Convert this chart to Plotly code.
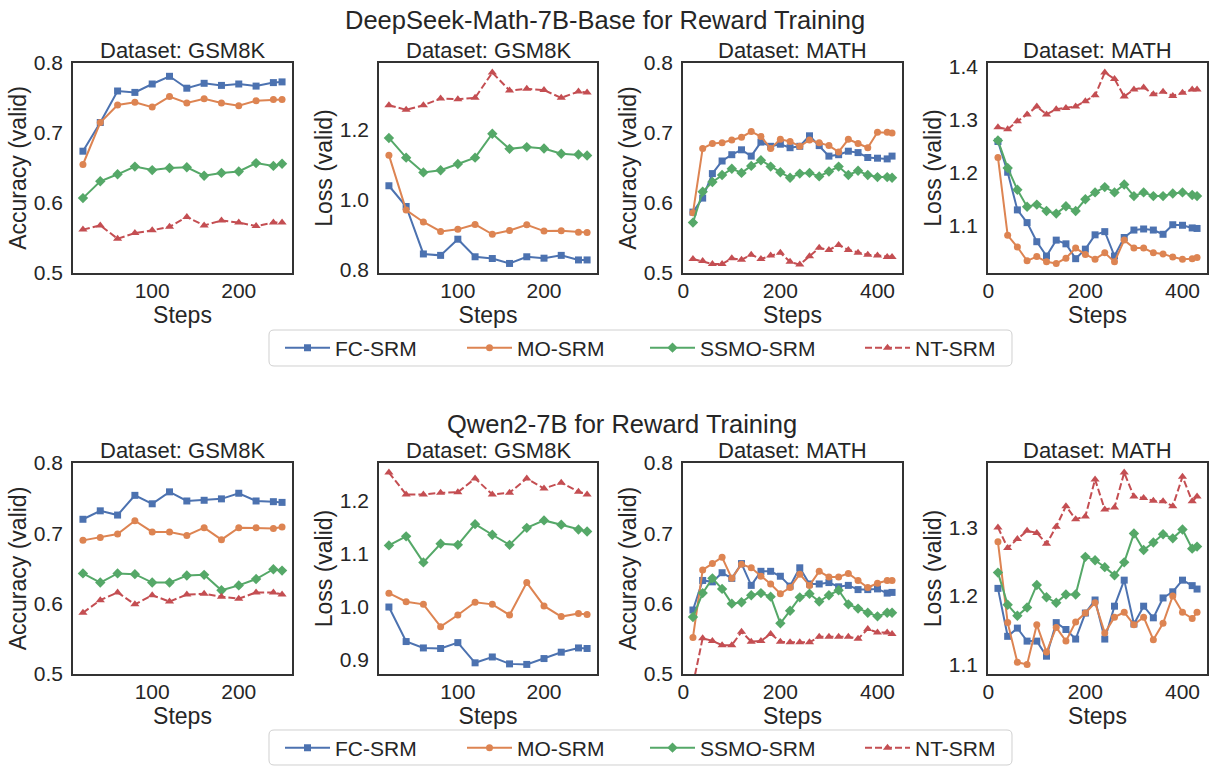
import plotly.graph_objects as go

W, H = 1210, 767
FONT = "Liberation Sans, Arial, Helvetica, sans-serif"
TXT = "#262626"

# ---------------- data ----------------
steps_gsm8k = [20, 40, 60, 80, 100, 120, 140, 160, 180, 200, 220, 240, 250]
steps_math = [20, 40, 60, 80, 100, 120, 140, 160, 180, 200, 220, 240, 260, 280, 300,
              320, 340, 360, 380, 400, 420, 430]

methods = ["FC-SRM", "MO-SRM", "SSMO-SRM", "NT-SRM"]
datasets_row = ["GSM8K", "GSM8K", "MATH", "MATH"]
metrics_row = ["Accuracy (valid)", "Loss (valid)", "Accuracy (valid)", "Loss (valid)"]
row_titles = ["DeepSeek-Math-7B-Base for Reward Training", "Qwen2-7B for Reward Training"]

# DeepSeek-Math-7B-Base, GSM8K accuracy
ds_gsm8k_acc_fc = [0.674, 0.715, 0.760, 0.758, 0.770, 0.781, 0.764, 0.771, 0.768, 0.770, 0.767, 0.772, 0.773]
ds_gsm8k_acc_mo = [0.655, 0.715, 0.740, 0.744, 0.737, 0.752, 0.743, 0.749, 0.743, 0.739, 0.746, 0.748, 0.748]
ds_gsm8k_acc_ssmo = [0.607, 0.631, 0.641, 0.652, 0.647, 0.650, 0.651, 0.639, 0.643, 0.645, 0.657, 0.653, 0.656]
ds_gsm8k_acc_nt = [0.562, 0.568, 0.549, 0.557, 0.561, 0.566, 0.580, 0.568, 0.575, 0.572, 0.567, 0.572, 0.572]

# DeepSeek-Math-7B-Base, GSM8K loss
ds_gsm8k_loss_fc = [1.040, 0.981, 0.846, 0.842, 0.888, 0.838, 0.833, 0.819, 0.838, 0.834, 0.842, 0.829, 0.829]
ds_gsm8k_loss_mo = [1.127, 0.971, 0.937, 0.910, 0.916, 0.930, 0.902, 0.913, 0.929, 0.911, 0.912, 0.908, 0.907]
ds_gsm8k_loss_ssmo = [1.176, 1.120, 1.078, 1.084, 1.102, 1.120, 1.188, 1.145, 1.150, 1.146, 1.131, 1.129, 1.126]
ds_gsm8k_loss_nt = [1.269, 1.256, 1.269, 1.288, 1.286, 1.290, 1.362, 1.311, 1.316, 1.312, 1.290, 1.308, 1.305]

# DeepSeek-Math-7B-Base, MATH accuracy
ds_math_acc_fc = [0.587, 0.607, 0.642, 0.660, 0.669, 0.676, 0.667, 0.687, 0.681, 0.684, 0.679,
                  0.681, 0.696, 0.682, 0.667, 0.669, 0.674, 0.672, 0.665, 0.664, 0.663, 0.667]
ds_math_acc_mo = [0.586, 0.678, 0.685, 0.686, 0.690, 0.694, 0.702, 0.695, 0.678, 0.691, 0.688,
                  0.681, 0.690, 0.686, 0.682, 0.673, 0.691, 0.685, 0.679, 0.701, 0.701, 0.700]
ds_math_acc_ssmo = [0.572, 0.616, 0.630, 0.640, 0.649, 0.643, 0.653, 0.661, 0.652, 0.644, 0.636,
                    0.642, 0.643, 0.638, 0.645, 0.652, 0.640, 0.646, 0.640, 0.637, 0.637, 0.636]
ds_math_acc_nt = [0.520, 0.517, 0.513, 0.513, 0.521, 0.519, 0.526, 0.520, 0.525, 0.529, 0.516,
                  0.512, 0.524, 0.536, 0.533, 0.540, 0.533, 0.529, 0.526, 0.525, 0.523, 0.523]

# DeepSeek-Math-7B-Base, MATH loss
ds_math_loss_fc = [1.259, 1.201, 1.130, 1.106, 1.070, 1.043, 1.073, 1.066, 1.038, 1.056, 1.083,
                   1.089, 1.043, 1.078, 1.092, 1.094, 1.092, 1.084, 1.102, 1.101, 1.096, 1.095]
ds_math_loss_mo = [1.229, 1.082, 1.060, 1.034, 1.042, 1.032, 1.029, 1.039, 1.058, 1.046, 1.037,
                   1.049, 1.032, 1.073, 1.058, 1.058, 1.049, 1.047, 1.041, 1.037, 1.038, 1.040]
ds_math_loss_ssmo = [1.261, 1.209, 1.168, 1.136, 1.140, 1.128, 1.123, 1.137, 1.128, 1.150, 1.163,
                     1.173, 1.163, 1.178, 1.156, 1.163, 1.156, 1.156, 1.161, 1.163, 1.158, 1.156]
ds_math_loss_nt = [1.286, 1.282, 1.297, 1.310, 1.325, 1.310, 1.320, 1.322, 1.325, 1.335, 1.346,
                   1.389, 1.377, 1.344, 1.357, 1.361, 1.348, 1.353, 1.345, 1.351, 1.357, 1.357]

# Qwen2-7B, GSM8K accuracy
qw_gsm8k_acc_fc = [0.720, 0.732, 0.726, 0.754, 0.742, 0.759, 0.746, 0.747, 0.749, 0.757, 0.746, 0.745, 0.744]
qw_gsm8k_acc_mo = [0.690, 0.694, 0.699, 0.718, 0.702, 0.702, 0.697, 0.708, 0.691, 0.708, 0.708, 0.707, 0.709]
qw_gsm8k_acc_ssmo = [0.643, 0.630, 0.643, 0.642, 0.630, 0.630, 0.640, 0.641, 0.619, 0.626, 0.635, 0.649, 0.647]
qw_gsm8k_acc_nt = [0.587, 0.605, 0.616, 0.599, 0.612, 0.603, 0.613, 0.614, 0.610, 0.607, 0.616, 0.616, 0.613]

# Qwen2-7B, GSM8K loss
qw_gsm8k_loss_fc = [0.999, 0.934, 0.922, 0.921, 0.932, 0.894, 0.905, 0.892, 0.891, 0.902, 0.914, 0.922, 0.921]
qw_gsm8k_loss_mo = [1.025, 1.009, 1.004, 0.962, 0.984, 1.008, 1.004, 0.984, 1.045, 1.001, 0.981, 0.987, 0.985]
qw_gsm8k_loss_ssmo = [1.115, 1.132, 1.083, 1.118, 1.116, 1.155, 1.135, 1.116, 1.148, 1.162, 1.154, 1.145, 1.141]
qw_gsm8k_loss_nt = [1.252, 1.211, 1.211, 1.214, 1.215, 1.241, 1.211, 1.214, 1.241, 1.222, 1.233, 1.216, 1.211]

# Qwen2-7B, MATH accuracy
qw_math_acc_fc = [0.591, 0.633, 0.631, 0.644, 0.636, 0.657, 0.626, 0.646, 0.646, 0.639, 0.625,
                  0.651, 0.628, 0.628, 0.630, 0.624, 0.626, 0.620, 0.620, 0.621, 0.615, 0.616]
qw_math_acc_mo = [0.552, 0.648, 0.657, 0.666, 0.636, 0.656, 0.651, 0.639, 0.628, 0.614, 0.623,
                  0.642, 0.626, 0.646, 0.638, 0.638, 0.643, 0.633, 0.623, 0.629, 0.633, 0.633]
qw_math_acc_ssmo = [0.581, 0.615, 0.636, 0.621, 0.600, 0.602, 0.612, 0.615, 0.610, 0.572, 0.590,
                    0.609, 0.614, 0.603, 0.612, 0.619, 0.599, 0.593, 0.587, 0.582, 0.587, 0.587]
qw_math_acc_nt = [0.485, 0.551, 0.547, 0.541, 0.541, 0.560, 0.546, 0.547, 0.557, 0.546, 0.545,
                  0.545, 0.545, 0.553, 0.553, 0.553, 0.553, 0.550, 0.564, 0.559, 0.559, 0.557]

# Qwen2-7B, MATH loss
qw_math_loss_fc = [1.211, 1.141, 1.153, 1.134, 1.134, 1.112, 1.161, 1.151, 1.137, 1.175, 1.194,
                   1.137, 1.185, 1.223, 1.159, 1.185, 1.168, 1.197, 1.206, 1.223, 1.215, 1.210]
qw_math_loss_mo = [1.279, 1.161, 1.103, 1.100, 1.158, 1.118, 1.154, 1.134, 1.162, 1.175, 1.190,
                   1.146, 1.169, 1.176, 1.158, 1.169, 1.136, 1.160, 1.200, 1.176, 1.167, 1.176]
qw_math_loss_ssmo = [1.234, 1.187, 1.171, 1.183, 1.216, 1.198, 1.190, 1.202, 1.202, 1.257, 1.252,
                     1.242, 1.230, 1.249, 1.291, 1.267, 1.278, 1.290, 1.284, 1.297, 1.269, 1.272]
qw_math_loss_nt = [1.300, 1.270, 1.283, 1.295, 1.292, 1.276, 1.301, 1.331, 1.312, 1.316, 1.370,
                   1.326, 1.329, 1.380, 1.345, 1.343, 1.339, 1.338, 1.331, 1.374, 1.338, 1.345]

# ---------------- styles ----------------
colors = ["#4C72B0", "#DD8452", "#55A868", "#C44E52"]
symbols = ["square", "circle", "diamond", "triangle-up"]
msizes = [7, 7, 8, 8]
dashes = ["solid", "solid", "solid", "7px,3px"]

panels = [
    (steps_gsm8k, [ds_gsm8k_acc_fc, ds_gsm8k_acc_mo, ds_gsm8k_acc_ssmo, ds_gsm8k_acc_nt], [0.5, 0.8], [0.5, 0.6, 0.7, 0.8], [100, 200]),
    (steps_gsm8k, [ds_gsm8k_loss_fc, ds_gsm8k_loss_mo, ds_gsm8k_loss_ssmo, ds_gsm8k_loss_nt], None, [0.8, 1.0, 1.2], [100, 200]),
    (steps_math, [ds_math_acc_fc, ds_math_acc_mo, ds_math_acc_ssmo, ds_math_acc_nt], [0.5, 0.8], [0.5, 0.6, 0.7, 0.8], [0, 200, 400]),
    (steps_math, [ds_math_loss_fc, ds_math_loss_mo, ds_math_loss_ssmo, ds_math_loss_nt], None, [1.1, 1.2, 1.3, 1.4], [0, 200, 400]),
    (steps_gsm8k, [qw_gsm8k_acc_fc, qw_gsm8k_acc_mo, qw_gsm8k_acc_ssmo, qw_gsm8k_acc_nt], [0.5, 0.8], [0.5, 0.6, 0.7, 0.8], [100, 200]),
    (steps_gsm8k, [qw_gsm8k_loss_fc, qw_gsm8k_loss_mo, qw_gsm8k_loss_ssmo, qw_gsm8k_loss_nt], None, [0.9, 1.0, 1.1, 1.2], [100, 200]),
    (steps_math, [qw_math_acc_fc, qw_math_acc_mo, qw_math_acc_ssmo, qw_math_acc_nt], [0.5, 0.8], [0.5, 0.6, 0.7, 0.8], [0, 200, 400]),
    (steps_math, [qw_math_loss_fc, qw_math_loss_mo, qw_math_loss_ssmo, qw_math_loss_nt], None, [1.1, 1.2, 1.3], [0, 200, 400]),
]

# pixel boxes of plot areas
col_px = [(73, 292), (379, 597), (683, 902), (988, 1207)]
row_px = [(63, 273), (463, 674)]


def px_x(p):
    return p / W


def px_y(p):
    return 1 - p / H


fig = go.Figure()
layout = dict(
    width=W, height=H, margin=dict(l=0, r=0, t=0, b=0, autoexpand=False),
    paper_bgcolor="white", plot_bgcolor="white",
    font=dict(family=FONT, color=TXT),
    annotations=[], shapes=[],
)

legend_x_px = [290, 472, 655, 870]
legend_y_px = [348, 748]

for i, (steps, series, yr, yt, xt) in enumerate(panels):
    r, c = divmod(i, 4)
    n = i + 1
    xa = "x" if n == 1 else f"x{n}"
    ya = "y" if n == 1 else f"y{n}"
    for k in range(4):
        leg_idx = r * 4 + k + 1
        fig.add_trace(go.Scatter(
            x=steps, y=series[k], mode="lines+markers", name=methods[k],
            line=dict(color=colors[k], width=2, dash=dashes[k]),
            marker=dict(symbol=symbols[k], size=msizes[k], color=colors[k]),
            xaxis=xa, yaxis=ya, showlegend=(c == 0),
            legend="legend" if leg_idx == 1 else f"legend{leg_idx}",
            cliponaxis=True,
        ))
    allv = [v for s in series for v in s]
    if yr is None:
        lo, hi = min(allv), max(allv)
        pad = 0.05 * (hi - lo)
        yr = [lo - pad, hi + pad]
    xpad = 0.05 * (max(steps) - min(steps))
    xr = [min(steps) - xpad, max(steps) + xpad]
    common = dict(showline=True, mirror=True, linecolor="#333333", linewidth=1.5,
                  ticks="", showgrid=False, zeroline=False, automargin=False,
                  tickfont=dict(size=21, color=TXT, family=FONT))
    layout["xaxis" if n == 1 else f"xaxis{n}"] = dict(
        domain=[px_x(col_px[c][0]), px_x(col_px[c][1])], anchor=ya,
        range=xr, tickvals=xt, ticklabelstandoff=-2,
        title=dict(text="Steps", font=dict(size=23, color=TXT, family=FONT), standoff=1),
        **common)
    layout["yaxis" if n == 1 else f"yaxis{n}"] = dict(
        domain=[px_y(row_px[r][1]), px_y(row_px[r][0])], anchor=xa,
        range=yr, tickvals=yt, tickformat=".1f", ticklabelstandoff=4,
        title=dict(text=metrics_row[c], font=dict(size=23, color=TXT, family=FONT), standoff=1),
        **common)
    # subplot title
    layout["annotations"].append(dict(
        text=f"Dataset: {datasets_row[c]}", xref="paper", yref="paper",
        x=px_x((col_px[c][0] + col_px[c][1]) / 2), y=px_y(row_px[r][0] + 2),
        xanchor="center", yanchor="bottom", showarrow=False,
        font=dict(size=22, color=TXT, family=FONT)))

# row titles
title_centers = [(605, 20), (622, 424)]
for r in range(2):
    layout["annotations"].append(dict(
        text=row_titles[r], xref="paper", yref="paper",
        x=px_x(title_centers[r][0]), y=px_y(title_centers[r][1]),
        xanchor="center", yanchor="middle", showarrow=False,
        font=dict(size=25.5, color=TXT, family=FONT)))

# legends (one per entry, so spacing matches)
for r in range(2):
    for k in range(4):
        idx = r * 4 + k + 1
        key = "legend" if idx == 1 else f"legend{idx}"
        layout[key] = dict(
            x=px_x(legend_x_px[k] - 10), y=px_y(legend_y_px[r]),
            xanchor="left", yanchor="middle", orientation="h",
            bgcolor="rgba(0,0,0,0)", borderwidth=0, itemwidth=45,
            font=dict(size=21, color=TXT, family=FONT))


def rounded_box(x0, y0, x1, y1, rad=5):
    X = lambda p: f"{px_x(p):.5f}"
    Y = lambda p: f"{px_y(p):.5f}"
    return (f"M {X(x0 + rad)},{Y(y0)} L {X(x1 - rad)},{Y(y0)} Q {X(x1)},{Y(y0)} {X(x1)},{Y(y0 + rad)} "
            f"L {X(x1)},{Y(y1 - rad)} Q {X(x1)},{Y(y1)} {X(x1 - rad)},{Y(y1)} "
            f"L {X(x0 + rad)},{Y(y1)} Q {X(x0)},{Y(y1)} {X(x0)},{Y(y1 - rad)} "
            f"L {X(x0)},{Y(y0 + rad)} Q {X(x0)},{Y(y0)} {X(x0 + rad)},{Y(y0)} Z")


for (y0, y1) in [(330, 366), (730, 765)]:
    layout["shapes"].append(dict(type="path", xref="paper", yref="paper",
                                 path=rounded_box(269, y0, 1012, y1),
                                 line=dict(color="#d0d0d0", width=1), fillcolor="rgba(0,0,0,0)"))

fig.update_layout(**layout)
fig.write_html("out.html", config={"displayModeBar": False},
               post_script="document.body.style.margin='0';document.body.style.overflow='hidden';")
